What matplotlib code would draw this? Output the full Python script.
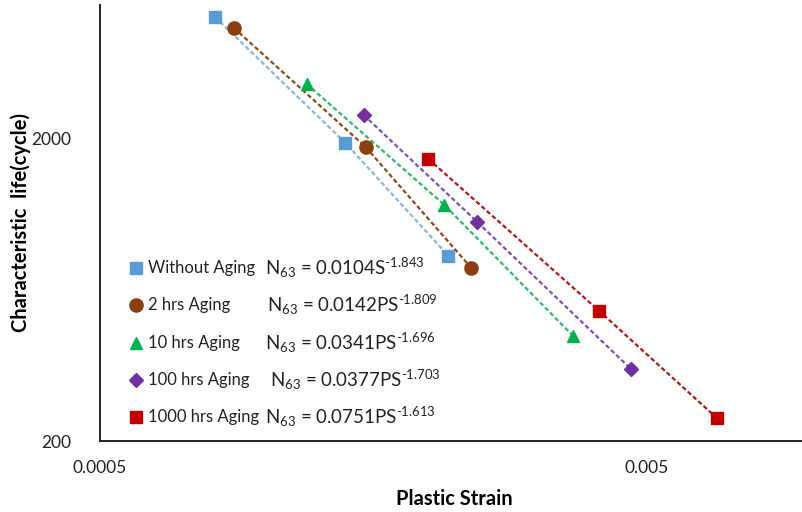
import matplotlib.pyplot as plt

plt.rcParams['font.family'] = ['Lato', 'DejaVu Sans']
plt.rcParams['mathtext.fontset'] = 'custom'
plt.rcParams['mathtext.rm'] = 'Lato'
plt.rcParams['mathtext.it'] = 'Lato'

names = ['Without Aging', '2 hrs Aging', '10 hrs Aging', '100 hrs Aging', '1000 hrs Aging']
coef = ['0.0104S', '0.0142PS', '0.0341PS', '0.0377PS', '0.0751PS']
expo = ['-1.843', '-1.809', '-1.696', '-1.703', '-1.613']

# plastic strain, characteristic life
strain = [
    [0.000811, 0.001405, 0.002167],
    [0.000878, 0.001529, 0.002386],
    [0.001193, 0.002131, 0.003664],
    [0.001516, 0.002447, 0.004675],
    [0.001992, 0.004088, 0.006711],
]
life = [
    [5070, 1940, 820],
    [4662, 1882, 748],
    [3042, 1209, 445],
    [2402, 1062, 346],
    [1717, 539, 238],
]

markers = ['s', 'o', '^', 'D', 's']
msizes = [9, 9.5, 9, 7, 8.5]
mcolors = ['#5b9bd5', '#8b3e0f', '#00b050', '#7030a0', '#c00000']
lcolors = ['#8eb4d8', '#8b4a1e', '#2fb86a', '#8050b0', '#b01818']

fig = plt.figure(figsize=(8.02, 5.12), dpi=100)
ax = fig.add_axes([100/802, 71/512, 702/802, 436/512])

for i in range(len(names)):
    ax.plot(strain[i], life[i], color=lcolors[i], ls=(0, (2, 1.2)), lw=1.6, zorder=2)
    ax.plot(strain[i], life[i], ls='none', marker=markers[i], ms=msizes[i],
            mfc=mcolors[i], mec=mcolors[i], zorder=3)

ax.set_xscale('log')
ax.set_yscale('log')
ax.set_xlim(0.0005, 0.0096)
ax.set_ylim(200, 5550)
ax.set_xticks([0.0005, 0.005])
ax.set_xticklabels(['0.0005', '0.005'])
ax.set_yticks([200, 2000])
ax.set_yticklabels(['200', '2000'])
ax.minorticks_off()
ax.tick_params(length=0, labelsize=12.5, colors='#222222')
ax.tick_params(axis='x', pad=14)
ax.tick_params(axis='y', pad=21)
for s in ['top', 'right']:
    ax.spines[s].set_visible(False)
for s in ['left', 'bottom']:
    ax.spines[s].set_linewidth(1.4)
    ax.spines[s].set_color('#222222')

ax.set_xlabel('Plastic Strain', fontsize=14.5, fontweight='bold')
ax.set_ylabel('Characteristic  life(cycle)', fontsize=14.5, fontweight='bold')
ax.yaxis.set_label_coords(-0.098, 0.5)
ax.xaxis.set_label_coords(0.505, -0.11)

rows = [0.397, 0.312, 0.225, 0.140, 0.055]
eqx = [0.235, 0.238, 0.235, 0.242, 0.235]
for i in range(len(names)):
    ax.plot([0.0513], [rows[i]], transform=ax.transAxes, marker=markers[i],
            ms=msizes[i], mfc=mcolors[i], mec=mcolors[i], ls='none', clip_on=False)
    ax.text(0.068, rows[i], names[i], transform=ax.transAxes, fontsize=12,
            va='center', color='#222222')
    ax.text(eqx[i], rows[i], r'N$_{63}$ = ' + coef[i] + r'$^{\text{' + expo[i] + '}}$',
            transform=ax.transAxes, fontsize=13.5, va='center', color='#222222')

fig.savefig('out.png', dpi=100)
